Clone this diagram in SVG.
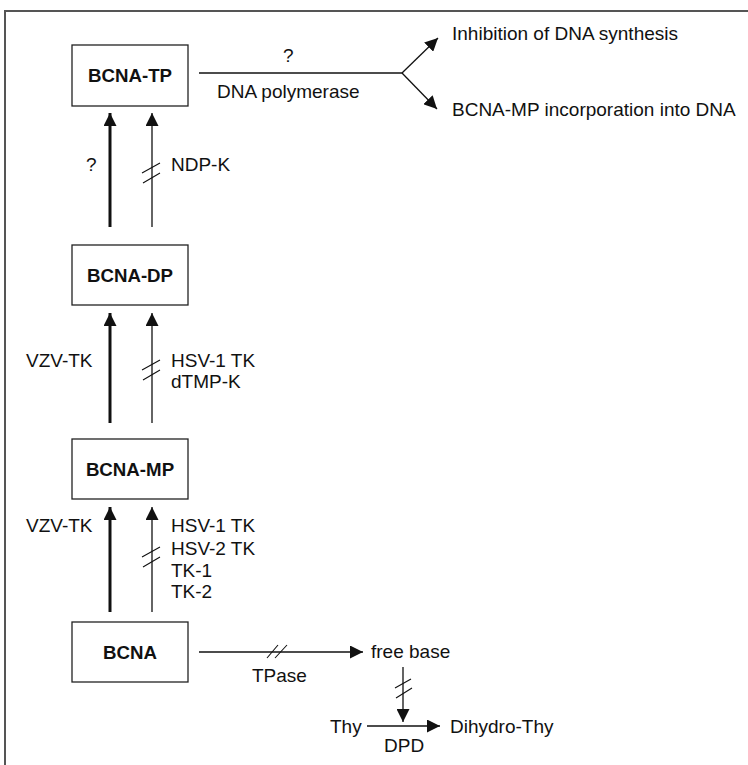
<svg xmlns="http://www.w3.org/2000/svg" width="748" height="765" viewBox="0 0 748 765">
<style>
text{font-family:"Liberation Sans",Arial,sans-serif;font-size:19px;fill:#111}
.b{font-weight:bold;text-anchor:middle;font-size:18.7px}
.box{fill:#fff;stroke:#222;stroke-width:1.3}
.thick{stroke:#111;stroke-width:3;fill:none}
.thin{stroke:#111;stroke-width:1.3;fill:none}
.sl{stroke:#111;stroke-width:1.1;fill:none}
</style>
<defs>
<marker id="ah" markerUnits="userSpaceOnUse" markerWidth="14" markerHeight="13" refX="13" refY="6.5" orient="auto">
<path d="M0,0 L13,6.5 L0,13 z" fill="#111"/>
</marker>
</defs>
<rect width="748" height="765" fill="#fff"/>
<path d="M5,765 V11 H748" fill="none" stroke="#555" stroke-width="2"/>

<g id="node-tp"><rect class="box" x="72" y="45" width="116" height="61"/><text class="b" x="130" y="82">BCNA-TP</text></g>
<g id="node-dp"><rect class="box" x="72" y="245" width="116" height="60"/><text class="b" x="130" y="282">BCNA-DP</text></g>
<g id="node-mp"><rect class="box" x="72" y="439" width="116" height="60"/><text class="b" x="130" y="476">BCNA-MP</text></g>
<g id="node-bcna"><rect class="box" x="72" y="622" width="116" height="60"/><text class="b" x="130" y="659">BCNA</text></g>
<g id="node-inhib"><text x="452" y="40">Inhibition of DNA synthesis</text></g>
<g id="node-incorp"><text x="452" y="116">BCNA-MP incorporation into DNA</text></g>
<g id="node-freebase"><text x="371" y="658">free base</text></g>
<g id="node-thy"><text x="330" y="733">Thy</text></g>
<g id="node-dihydro"><text x="450" y="733">Dihydro-Thy</text></g>

<g id="connectors">
<line class="thick" x1="110" y1="227" x2="110" y2="113" marker-end="url(#ah)"/>
<line class="thin" x1="152" y1="227" x2="152" y2="113" marker-end="url(#ah)"/>
<line class="thick" x1="110" y1="423" x2="110" y2="313" marker-end="url(#ah)"/>
<line class="thin" x1="152" y1="423" x2="152" y2="313" marker-end="url(#ah)"/>
<line class="thick" x1="110" y1="612" x2="110" y2="507" marker-end="url(#ah)"/>
<line class="thin" x1="152" y1="612" x2="152" y2="507" marker-end="url(#ah)"/>
<line class="thin" x1="199" y1="73" x2="402" y2="73"/>
<line class="thin" x1="402" y1="73" x2="438" y2="38" marker-end="url(#ah)"/>
<line class="thin" x1="402" y1="73" x2="437" y2="109" marker-end="url(#ah)"/>
<line class="thin" x1="199" y1="652" x2="363" y2="652" marker-end="url(#ah)"/>
<line class="thin" x1="403" y1="667" x2="403" y2="722" marker-end="url(#ah)"/>
<line class="thin" x1="367" y1="726" x2="440" y2="726" marker-end="url(#ah)"/>
<path class="sl" d="M142,173 L160,163 M143,183 L160,173"/>
<path class="sl" d="M142,370 L160,360 M143,380 L160,370"/>
<path class="sl" d="M142,557 L160,547 M143,567 L160,557"/>
<path class="sl" d="M267,658 L278,645 M275,658 L287,645"/>
<path class="sl" d="M395,688 L411,679 M396,698 L412,688"/>
<text x="283" y="62">?</text>
<text x="217" y="98">DNA polymerase</text>
<text x="86" y="171">?</text>
<text x="171" y="171">NDP-K</text>
<text x="26" y="367">VZV-TK</text>
<text x="171" y="367">HSV-1 TK</text>
<text x="171" y="388">dTMP-K</text>
<text x="26" y="532">VZV-TK</text>
<text x="171" y="532">HSV-1 TK</text>
<text x="171" y="555">HSV-2 TK</text>
<text x="171" y="577">TK-1</text>
<text x="171" y="598">TK-2</text>
<text x="252" y="682">TPase</text>
<text x="384" y="752">DPD</text>
</g>
</svg>
